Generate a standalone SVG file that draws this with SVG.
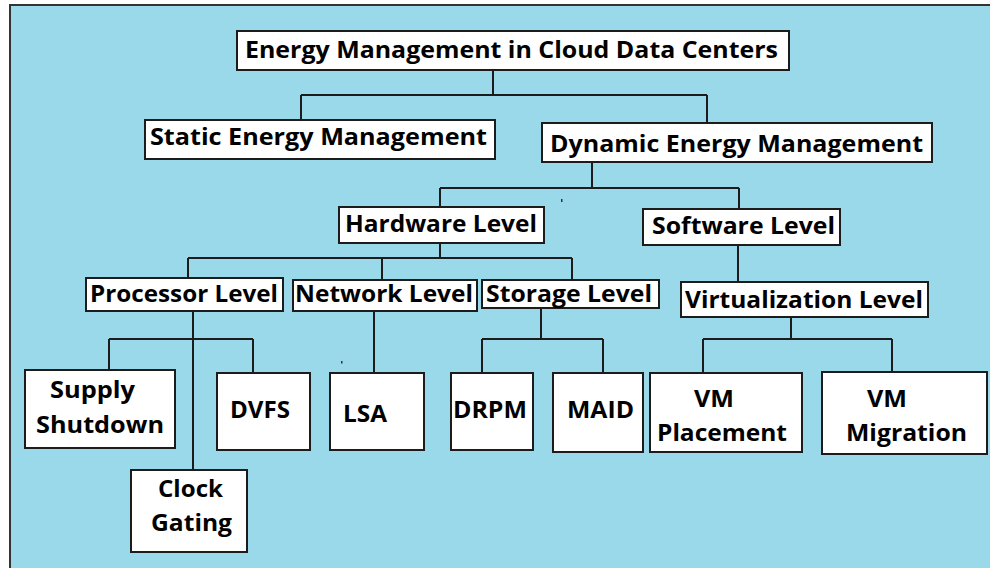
<svg xmlns="http://www.w3.org/2000/svg" width="990" height="568" viewBox="0 0 990 568">
<style>
.bx{fill:#ffffff;stroke:#1c1c1c;stroke-width:2}
.t{font-family:"Open Sans","Liberation Sans",sans-serif;font-weight:bold;font-size:23px;fill:#000000}
.c{fill:none;stroke:#1c1c1c;stroke-width:2}
</style>
<rect x="0" y="0" width="990" height="568" fill="#ffffff"/>
<rect x="10" y="5" width="990" height="580" fill="#99D9EA" stroke="#333333" stroke-width="2"/>
<g id="connectors">
<path class="c" d="M493,70 V95 M301,95 H707 M301,95 V120 M707,95 V123"/>
<path class="c" d="M592,162 V188 M440,188 H739 M440,188 V207 M739,188 V209"/>
<path class="c" d="M440,243 V258 M188,258 H572 M188,258 V278 M382,258 V280 M572,258 V280"/>
<path class="c" d="M738,245 V282"/>
<path class="c" d="M193,311 V470 M109,339 H253 M109,339 V370 M253,339 V373"/>
<path class="c" d="M374,311 V373"/>
<path class="c" d="M541,308 V339 M482,339 H603 M482,339 V373 M603,339 V373"/>
<path class="c" d="M791,317 V339 M703,339 H892 M703,339 V373 M892,339 V372"/>
</g>
<rect x="561" y="199" width="1.5" height="3" fill="#333"/>
<rect x="341" y="361" width="1.5" height="2.5" fill="#333"/>
<g id="root"><rect class="bx" x="237" y="31" width="552" height="39"/><text class="t" x="245" y="58" textLength="533" lengthAdjust="spacingAndGlyphs">Energy Management in Cloud Data Centers</text></g>
<g id="static"><rect class="bx" x="145" y="120" width="350" height="39"/><text class="t" x="150" y="145" textLength="337" lengthAdjust="spacingAndGlyphs">Static Energy Management</text></g>
<g id="dynamic"><rect class="bx" x="542" y="123" width="390" height="39"/><text class="t" x="550" y="152" textLength="373" lengthAdjust="spacingAndGlyphs">Dynamic Energy Management</text></g>
<g id="hardware"><rect class="bx" x="339" y="207" width="205" height="36"/><text class="t" x="345" y="232" textLength="192" lengthAdjust="spacingAndGlyphs">Hardware Level</text></g>
<g id="software"><rect class="bx" x="643" y="209" width="197" height="36"/><text class="t" x="652" y="234" textLength="183" lengthAdjust="spacingAndGlyphs">Software Level</text></g>
<g id="processor"><rect class="bx" x="86" y="278" width="197" height="33"/><text class="t" x="90" y="302" textLength="188" lengthAdjust="spacingAndGlyphs">Processor Level</text></g>
<g id="network"><rect class="bx" x="293" y="280" width="184" height="31"/><text class="t" x="295" y="302" textLength="178" lengthAdjust="spacingAndGlyphs">Network Level</text></g>
<g id="storage"><rect class="bx" x="482" y="280" width="177" height="28"/><text class="t" x="486" y="302" textLength="166" lengthAdjust="spacingAndGlyphs">Storage Level</text></g>
<g id="virtualization"><rect class="bx" x="681" y="282" width="247" height="35"/><text class="t" x="685" y="308" textLength="238" lengthAdjust="spacingAndGlyphs">Virtualization Level</text></g>
<g id="supply"><rect class="bx" x="25" y="370" width="150" height="78"/><text class="t" x="50" y="398" textLength="85" lengthAdjust="spacingAndGlyphs">Supply</text><text class="t" x="36" y="433" textLength="128" lengthAdjust="spacingAndGlyphs">Shutdown</text></g>
<g id="clock"><rect class="bx" x="131" y="470" width="116" height="82"/><text class="t" x="158" y="497" textLength="65" lengthAdjust="spacingAndGlyphs">Clock</text><text class="t" x="151" y="531" textLength="81" lengthAdjust="spacingAndGlyphs">Gating</text></g>
<g id="dvfs"><rect class="bx" x="217" y="373" width="93" height="77"/><text class="t" x="230" y="418" textLength="60" lengthAdjust="spacingAndGlyphs">DVFS</text></g>
<g id="lsa"><rect class="bx" x="330" y="373" width="94" height="77"/><text class="t" x="343" y="422" textLength="44" lengthAdjust="spacingAndGlyphs">LSA</text></g>
<g id="drpm"><rect class="bx" x="451" y="373" width="82" height="77"/><text class="t" x="453" y="418" textLength="74" lengthAdjust="spacingAndGlyphs">DRPM</text></g>
<g id="maid"><rect class="bx" x="553" y="373" width="90" height="79"/><text class="t" x="567" y="418" textLength="67" lengthAdjust="spacingAndGlyphs">MAID</text></g>
<g id="vmplacement"><rect class="bx" x="650" y="373" width="152" height="79"/><text class="t" x="694" y="407" textLength="40" lengthAdjust="spacingAndGlyphs">VM</text><text class="t" x="657" y="441" textLength="130" lengthAdjust="spacingAndGlyphs">Placement</text></g>
<g id="vmmigration"><rect class="bx" x="822" y="372" width="165" height="82"/><text class="t" x="867" y="407" textLength="40" lengthAdjust="spacingAndGlyphs">VM</text><text class="t" x="846" y="441" textLength="121" lengthAdjust="spacingAndGlyphs">Migration</text></g>
</svg>
